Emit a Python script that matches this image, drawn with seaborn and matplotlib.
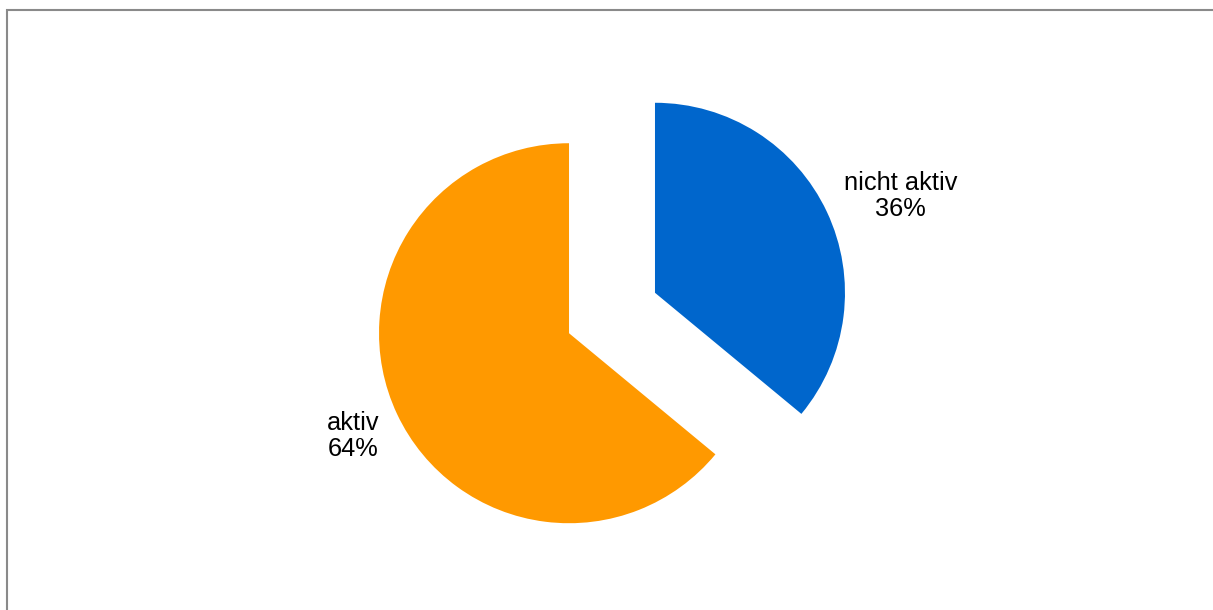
import numpy as np
import matplotlib
matplotlib.use("Agg")
import matplotlib.pyplot as plt
from matplotlib.patches import Rectangle
import seaborn as sns

# data
categories = ["nicht aktiv", "aktiv"]
shares = [36, 64]
colors = ["#0066CC", "#FF9900"]

sns.set_theme(style="white")
plt.rcParams['font.family'] = ['Liberation Sans', 'DejaVu Sans']

W, H = 1213, 610
fig = plt.figure(figsize=(W / 100, H / 100), dpi=100)
ax = fig.add_axes([0, 0, 1, 1])
ax.set_xlim(0, W)
ax.set_ylim(0, H)
ax.set_aspect("equal")
ax.axis("off")

radius = 190
center = (612, 297)
explode = [0.25 * radius, 0.25 * radius]

wedges, _ = ax.pie(shares, colors=colors, startangle=90, counterclock=False,
                   radius=radius, center=center, explode=explode,
                   wedgeprops=dict(linewidth=0), frame=True)
ax.axis("off")
ax.set_xlim(0, W)
ax.set_ylim(0, H)

# label placement relative to each wedge (angle in degrees, distance in radii)
label_angle = [21.5, 205.5]
label_dist = [1.39, 1.26]
for w, cat, val, ang, d in zip(wedges, categories, shares, label_angle, label_dist):
    cx, cy = w.center
    a = np.deg2rad(ang)
    ax.text(cx + d * w.r * np.cos(a), cy + d * w.r * np.sin(a),
            f"{cat}\n{val}%", ha="center", va="center",
            fontsize=18.3, color="black", linespacing=1.12)

fig.add_artist(Rectangle((6.5 / W, -0.1), 1.2, (H - 9.5) / H + 0.1,
                         transform=fig.transFigure, fill=False,
                         ec="#8a8a8a", lw=1.5))

fig.savefig("out.png", dpi=100)
